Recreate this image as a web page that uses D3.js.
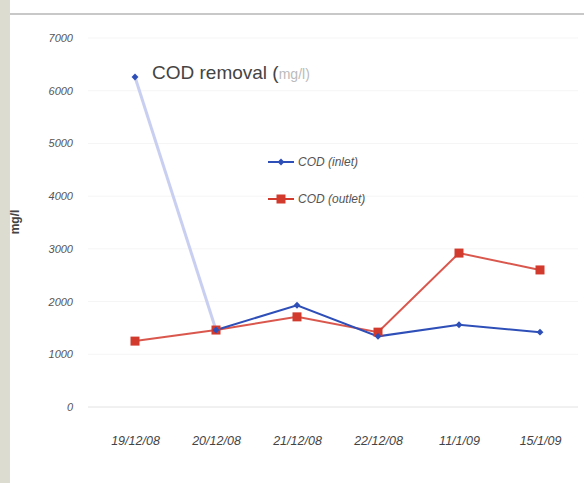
<!DOCTYPE html>
<html><head><meta charset="utf-8">
<script src="https://cdn.jsdelivr.net/npm/d3@7"></script>
<style>body{margin:0;background:#fff}svg{display:block}</style>
</head><body>
<svg id="c" width="584" height="483"></svg>
<script>
const categories = ["19/12/08","20/12/08","21/12/08","22/12/08","11/1/09","15/1/09"];
const inletValues = [6260, 1460, 1930, 1340, 1560, 1420];
const outletValues = [1250, 1460, 1710, 1420, 2920, 2600];
const yTicks = [0,1000,2000,3000,4000,5000,6000,7000];
const seriesNames = ["COD (inlet)", "COD (outlet)"];
const titleText = "COD removal (";
const titleTail = "mg/l)";
const yLabel = "mg/l";

const svg = d3.select("#c");
svg.append("rect").attr("x",0).attr("y",0).attr("width",10).attr("height",483).attr("fill","#dcdcd0");
svg.append("line").attr("x1",10).attr("x2",584).attr("y1",14).attr("y2",14).attr("stroke","#c8c8c8").attr("stroke-width",2);

const x = d3.scalePoint().domain(categories).range([94.5,580.5]).padding(0.5);
const y = d3.scaleLinear().domain([0,7000]).range([407,38]);

svg.append("g").selectAll("line").data(yTicks).join("line")
  .attr("x1",88).attr("x2",578).attr("y1",d=>y(d)).attr("y2",d=>y(d))
  .attr("stroke",d=>d===0?"#e2e2e2":"#f5f5f5").attr("stroke-width",1);

const ya = svg.append("g").attr("transform","translate(76,0)")
  .call(d3.axisLeft(y).tickValues(yTicks).tickSize(0).tickFormat(d3.format("d")));
ya.select(".domain").remove();
ya.selectAll("text").attr("font-family","Liberation Sans, Arial").attr("font-size",11)
  .attr("font-style","italic").attr("fill","#555");

const xa = svg.append("g").attr("transform","translate(0,433)")
  .call(d3.axisBottom(x).tickSize(0));
xa.select(".domain").remove();
xa.selectAll("text").attr("font-family","Liberation Sans, Arial").attr("font-size",12.5)
  .attr("font-style","italic").attr("fill","#444");

svg.append("text").attr("transform","translate(19,222) rotate(-90)").attr("text-anchor","middle")
  .attr("font-family","Liberation Sans, Arial").attr("font-size",12).attr("font-weight","bold").attr("fill","#444").text(yLabel);

const t = svg.append("text").attr("x",152).attr("y",79).attr("font-family","Liberation Sans, Arial")
  .attr("font-size",19).attr("fill","#444");
t.append("tspan").text(titleText);
t.append("tspan").attr("fill","#bbb").attr("font-size",14).text(titleTail);

const blue = "#2f4fb8", red = "#d23a2e";
const line = d3.line().x(d=>x(d.c)).y(d=>y(d.v));
const inlet = categories.map((c,i)=>({c,v:inletValues[i]}));
const outlet = categories.map((c,i)=>({c,v:outletValues[i]}));

svg.append("path").datum(inlet.slice(0,2)).attr("d",line).attr("fill","none").attr("stroke","#c9cff0").attr("stroke-width",3);
svg.append("path").datum(outlet).attr("d",line).attr("fill","none").attr("stroke",red).attr("stroke-width",2).attr("stroke-opacity",0.85);
svg.append("path").datum(inlet.slice(1)).attr("d",line).attr("fill","none").attr("stroke",blue).attr("stroke-width",2);

svg.append("g").selectAll("rect").data(outlet).join("rect")
  .attr("x",d=>x(d.c)-4.5).attr("y",d=>y(d.v)-4.5).attr("width",9).attr("height",9).attr("fill",red);
svg.append("g").selectAll("path").data(inlet).join("path")
  .attr("d",d3.symbol(d3.symbolDiamond2,30)).attr("transform",d=>`translate(${x(d.c)},${y(d.v)})`).attr("fill",blue);

const lg = svg.append("g");
[[blue,162],[red,199]].forEach(([col,yy],i)=>{
  lg.append("line").attr("x1",268).attr("x2",294).attr("y1",yy).attr("y2",yy).attr("stroke",col).attr("stroke-width",2);
  if(i===0) lg.append("path").attr("d",d3.symbol(d3.symbolDiamond2,30)).attr("transform",`translate(281,${yy})`).attr("fill",col);
  else lg.append("rect").attr("x",276.5).attr("y",yy-4.5).attr("width",9).attr("height",9).attr("fill",col);
  lg.append("text").attr("x",298).attr("y",yy+4).attr("font-family","Liberation Sans, Arial").attr("font-size",12)
    .attr("font-style","italic").attr("fill","#555").text(seriesNames[i]);
});
</script>
</body></html>
